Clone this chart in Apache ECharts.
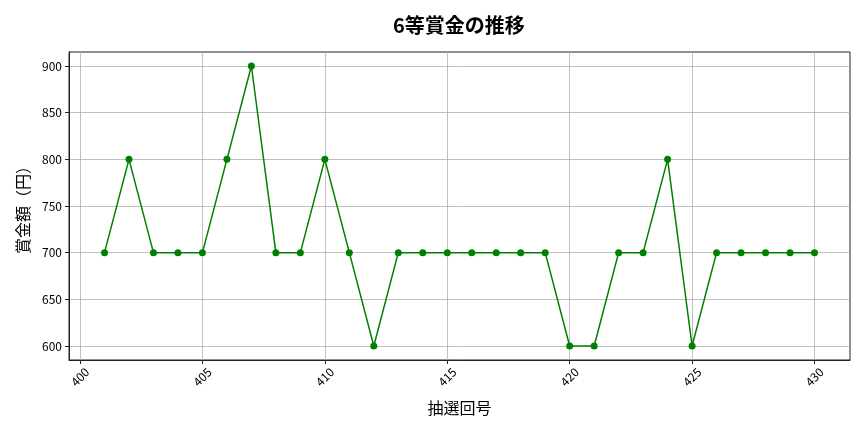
<!DOCTYPE html>
<html><head><meta charset="utf-8">
<script src="https://cdn.jsdelivr.net/npm/echarts@6/dist/echarts.min.js"></script>
<style>html,body{margin:0;padding:0;background:#fff}#c{width:864px;height:432px}</style>
</head><body><div id="c"></div>
<script>
const rounds = [401,402,403,404,405,406,407,408,409,410,411,412,413,414,415,416,417,418,419,420,421,422,423,424,425,426,427,428,429,430];
const prizes = [700,800,700,700,700,800,900,700,700,800,700,600,700,700,700,700,700,700,700,600,600,700,700,800,600,700,700,700,700,700];
const xTicks = [400,405,410,415,420,425,430];
const yTicks = [600,650,700,750,800,850,900];
const F = '"Noto Sans CJK JP", "Noto Sans", sans-serif';
const chart = echarts.init(document.getElementById('c'));
chart.setOption({
  animation:false,
  title:{text:'6等賞金の推移',left:388,top:10,textStyle:{fontFamily:F,fontSize:20,fontWeight:'bold',color:'#000'}},
  grid:{left:69,right:14,top:52,bottom:72,show:true,borderColor:'#222',borderWidth:1},
  xAxis:{type:'value',min:399.55,max:431.45,name:'抽選回号',nameLocation:'middle',nameGap:40,
    nameTextStyle:{fontFamily:F,fontSize:16,color:'#000'},
    axisLine:{show:true,lineStyle:{color:'#222'}},
    axisTick:{show:true,customValues:xTicks,length:4,lineStyle:{color:'#222'}},
    axisLabel:{customValues:xTicks,rotate:45,align:'center',verticalAlign:'middle',fontFamily:F,fontSize:12,color:'#000',margin:17},
    splitLine:{show:true,lineStyle:{color:'#b0b0b0',width:0.8}}},
  yAxis:{type:'value',min:585,max:915,name:'賞金額（円）',nameLocation:'middle',nameGap:38,
    nameTextStyle:{fontFamily:F,fontSize:16,color:'#000'},
    axisLine:{show:true,lineStyle:{color:'#222'}},
    axisTick:{show:true,customValues:yTicks,length:4,lineStyle:{color:'#222'}},
    axisLabel:{customValues:yTicks,fontFamily:F,fontSize:12,color:'#000',margin:7},
    splitLine:{show:true,lineStyle:{color:'#b0b0b0',width:0.8}}},
  series:[{type:'line',data:rounds.map((r,i)=>[r,prizes[i]]),symbol:'circle',symbolSize:7,
    itemStyle:{color:'#008000'},lineStyle:{color:'#008000',width:1.5}}]
});
</script></body></html>
